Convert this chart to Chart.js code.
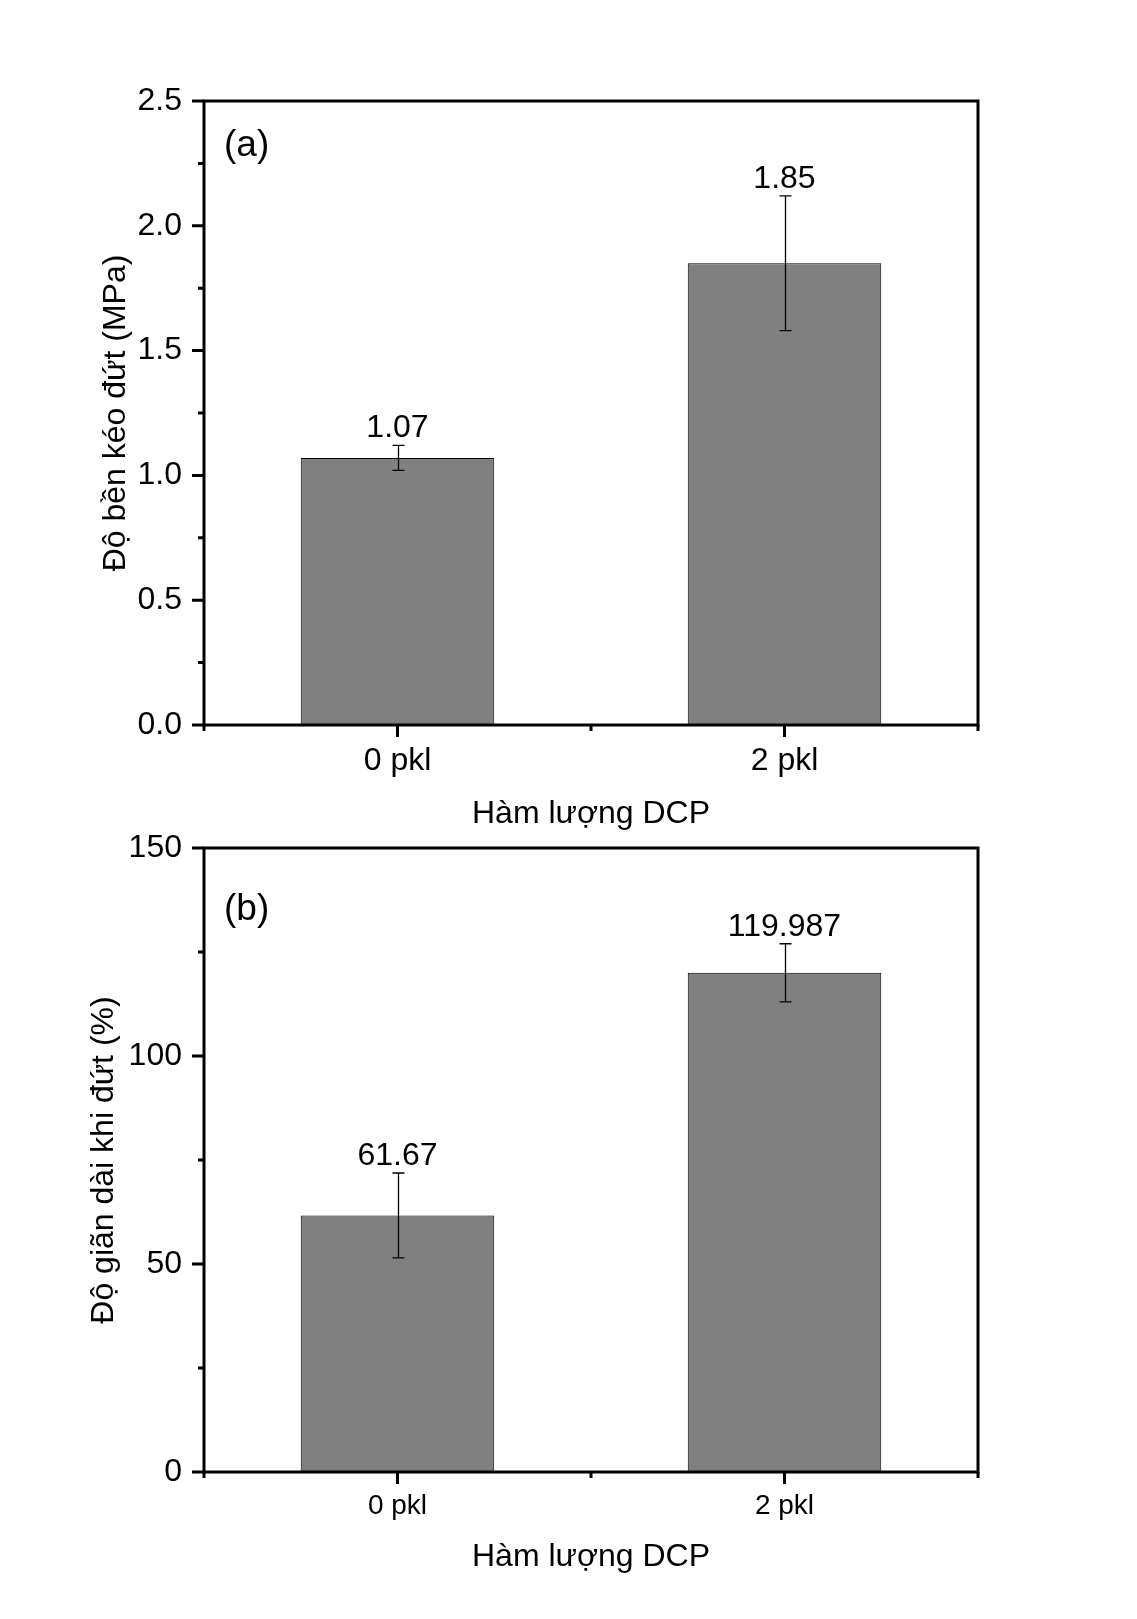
<!DOCTYPE html>
<html>
<head>
<meta charset="utf-8">
<title>Hàm lượng DCP</title>
<script src="https://cdn.jsdelivr.net/npm/chart.js@4.4.0/dist/chart.umd.min.js"></script>
<style>
  html, body { margin: 0; padding: 0; background: #fff; }
  #page { position: relative; width: 1137px; height: 1619px; overflow: hidden; background: #fff; }
  canvas { position: absolute; left: 0; }
  #chartA { top: 0; }
  #chartB { top: 790px; }
</style>
</head>
<body>
<div id="page">
  <canvas id="chartA" width="1137" height="840"></canvas>
  <canvas id="chartB" width="1137" height="829"></canvas>
</div>
<script>
const categories = ['0 pkl', '2 pkl'];

// (a) tensile strength, MPa
const strengthValues = [1.07, 1.85];
const strengthErrors = [0.05, 0.27];
const strengthMax = 2.5;
const strengthStep = 0.5;

// (b) elongation at break, %
const elongationValues = [61.67, 119.987];
const elongationErrors = [10.2, 7.0];
const elongationMax = 150;
const elongationStep = 50;

const FONT = "'Liberation Sans', Arial, sans-serif";

// error bars, value labels, box frame, ticks and panel letter
const panelDecor = {
  id: 'panelDecor',
  afterDatasetsDraw(chart, args, opts) {
    const { ctx, chartArea: area } = chart;
    const x = chart.scales.x;
    const y = chart.scales.y;
    const bars = chart.getDatasetMeta(0).data;
    ctx.save();

    ctx.strokeStyle = '#000';
    ctx.fillStyle = '#000';
    ctx.lineWidth = 1.3;
    ctx.font = '32px ' + FONT;
    ctx.textAlign = 'center';
    ctx.textBaseline = 'alphabetic';
    opts.values.forEach((v, i) => {
      const bx = Math.round(bars[i].x) + 0.5;
      const hi = y.getPixelForValue(v + opts.errors[i]);
      const lo = y.getPixelForValue(v - opts.errors[i]);
      ctx.beginPath();
      ctx.moveTo(bx, hi); ctx.lineTo(bx, lo);
      ctx.moveTo(bx - 6, hi); ctx.lineTo(bx + 6, hi);
      ctx.moveTo(bx - 6, lo); ctx.lineTo(bx + 6, lo);
      ctx.stroke();
      ctx.fillText(String(v), bars[i].x, hi - 8);
    });

    ctx.lineWidth = 3;
    ctx.strokeRect(area.left, area.top, area.right - area.left, area.bottom - area.top);

    ctx.beginPath();
    const yt = y.ticks.map(t => t.value);
    yt.forEach((v, i) => {
      const py = y.getPixelForValue(v);
      ctx.moveTo(area.left - 12, py); ctx.lineTo(area.left, py);
      if (i < yt.length - 1) {
        const pm = y.getPixelForValue((v + yt[i + 1]) / 2);
        ctx.moveTo(area.left - 6, pm); ctx.lineTo(area.left, pm);
      }
    });
    categories.forEach((c, i) => {
      const px = x.getPixelForValue(i);
      ctx.moveTo(px, area.bottom); ctx.lineTo(px, area.bottom + 12);
    });
    for (let i = 0; i <= categories.length; i++) {
      const px = x.getPixelForValue(i - 0.5);
      ctx.moveTo(px, area.bottom); ctx.lineTo(px, area.bottom + 6);
    }
    ctx.stroke();

    ctx.font = '37px ' + FONT;
    ctx.textAlign = 'left';
    ctx.textBaseline = 'middle';
    ctx.fillText(opts.letter, area.left + 20, area.top + opts.letterDy);
    ctx.restore();
  }
};

function buildPanel(canvasId, p) {
  return new Chart(document.getElementById(canvasId), {
    type: 'bar',
    data: {
      labels: categories,
      datasets: [{
        data: p.values,
        backgroundColor: '#808080',
        borderColor: '#000',
        borderWidth: 1,
        barPercentage: 0.5,
        categoryPercentage: 1
      }]
    },
    options: {
      responsive: false,
      animation: false,
      devicePixelRatio: 1,
      layout: { padding: { top: p.top, right: 159, bottom: 0, left: 0 } },
      plugins: {
        legend: { display: false },
        tooltip: { enabled: false },
        panelDecor: { values: p.values, errors: p.errors, letter: p.letter, letterDy: p.letterDy }
      },
      scales: {
        x: {
          grid: { display: false, drawTicks: false },
          border: { display: false },
          ticks: { color: '#000', font: { family: FONT, size: p.xTickSize }, padding: p.xTickPad },
          title: {
            display: true, text: 'Hàm lượng DCP', color: '#000',
            font: { family: FONT, size: 32 }, padding: { top: 0, bottom: p.xTitlePad }
          },
          afterFit: s => { s.height = p.xHeight; }
        },
        y: {
          min: 0,
          max: p.max,
          grid: { display: false, drawTicks: false },
          border: { display: false },
          ticks: {
            stepSize: p.step, color: '#000', font: { family: FONT, size: 32 }, padding: 22,
            callback: v => v.toFixed(p.decimals)
          },
          title: {
            display: true, text: p.yTitle, color: '#000',
            font: { family: FONT, size: 32 }, padding: { top: p.yTitlePad, bottom: 0 }
          },
          afterFit: s => { s.width = 204; }
        }
      }
    },
    plugins: [panelDecor]
  });
}

buildPanel('chartA', {
  values: strengthValues, errors: strengthErrors,
  max: strengthMax, step: strengthStep, decimals: 1,
  yTitle: 'Độ bền kéo đứt (MPa)', letter: '(a)', letterDy: 45,
  top: 101, xHeight: 115, xTickSize: 32, xTickPad: 17, xTitlePad: 7, yTitlePad: 97
});

buildPanel('chartB', {
  values: elongationValues, errors: elongationErrors,
  max: elongationMax, step: elongationStep, decimals: 0,
  yTitle: 'Độ giãn dài khi đứt (%)', letter: '(b)', letterDy: 62,
  top: 58, xHeight: 147, xTickSize: 28, xTickPad: 17, xTitlePad: 43, yTitlePad: 85
});
</script>
</body>
</html>
